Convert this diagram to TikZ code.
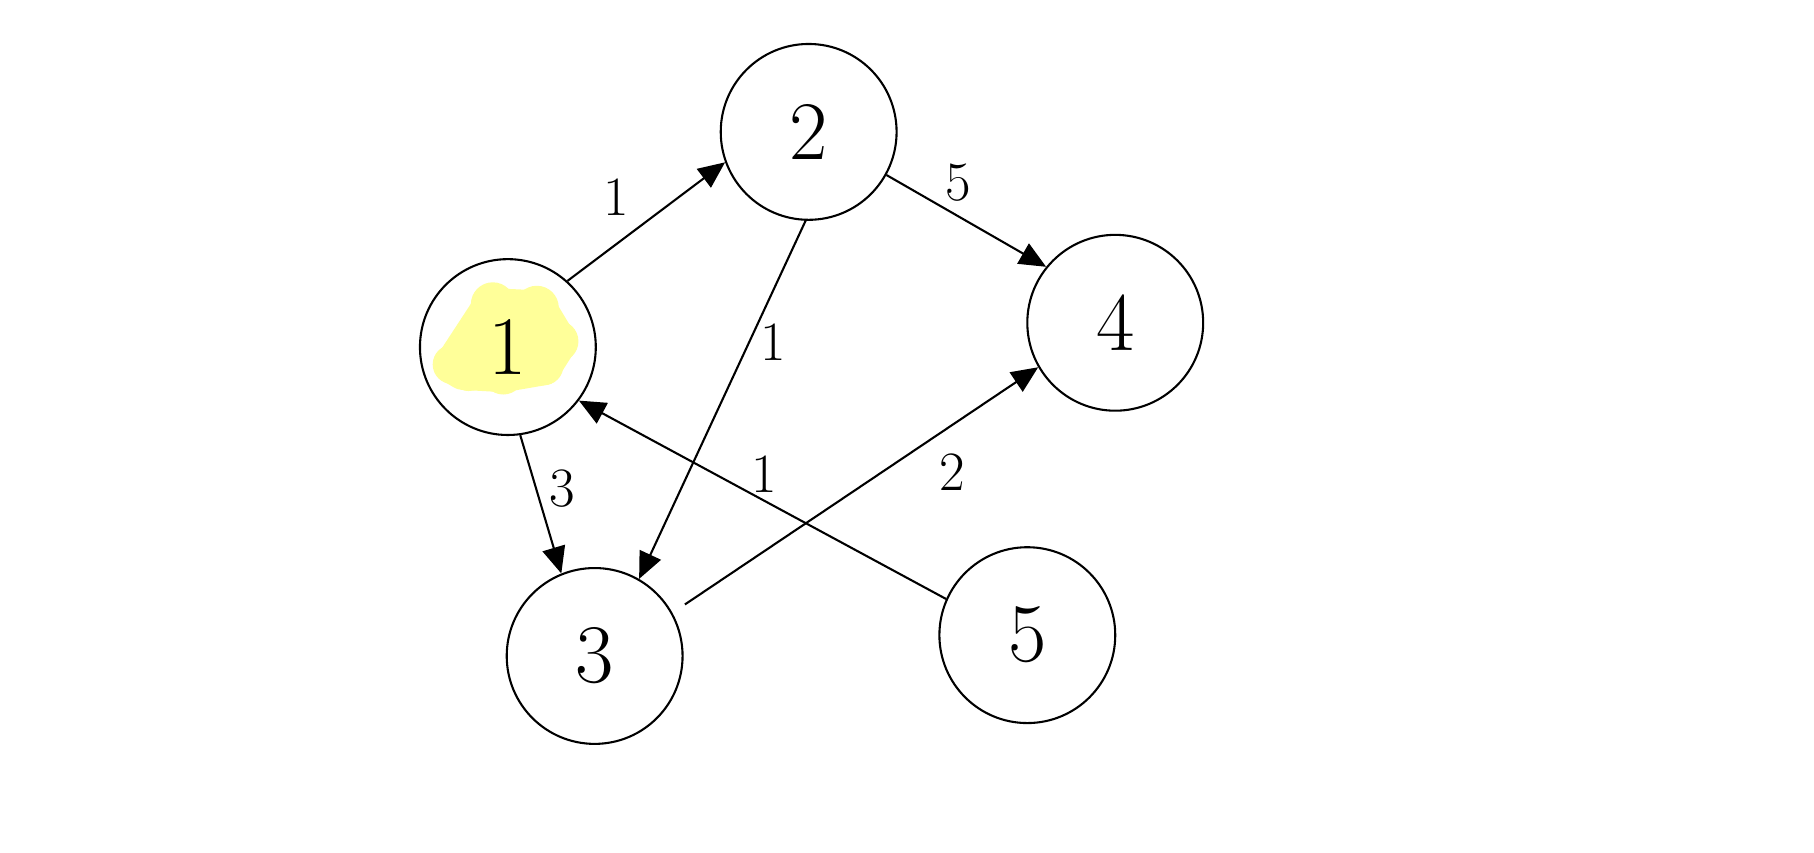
\documentclass[tikz,border=0pt]{standalone}
\usepackage{fontspec}
\usetikzlibrary{arrows.meta}
\definecolor{hilite}{HTML}{FFFF99}
\begin{document}
\begin{tikzpicture}[x=1pt,y=-1pt,
  vertex/.style={circle,draw=black,line width=1.8pt,minimum size=152pt,inner sep=0pt,font=\fontsize{72}{72}\selectfont},
  edge/.style={draw=black,line width=1.8pt,-{Triangle[length=23pt,width=20pt]}},
  wlabel/.style={font=\fontsize{48}{48}\selectfont,inner sep=0pt}]
\useasboundingbox (0,0) rectangle (1568,736.5);
% highlight
\fill[hilite,line width=30pt,draw=hilite,line join=round,line cap=round]
  (390,316) -- (424,264) -- (466,266) -- (484,296) -- (470,318) -- (435,324) -- (400,322) -- cycle;
\foreach \p/\r in {(391,315)/17,(426,263)/19,(464,266)/19,(482,295)/18,(470,316)/17,(435,323)/18,(405,321)/17}
  \fill[hilite] \p circle[radius=\r];
\node[vertex] (n1) at (439,300) {1};
\node[vertex] (n2) at (699,114) {2};
\node[vertex] (n3) at (514,567) {3};
\node[vertex] (n4) at (964,279) {4};
\node[vertex] (n5) at (888,549) {5};
\draw[edge] (n1.48) -- (n2.200);
\draw[edge] (n2.331) -- (n4.141);
\draw[edge] (n2.268) -- (n3.60);
\draw[edge] (n1.278) -- (n3.112);
\draw[edge,shorten <=13pt] (n3.29) -- (n4.210);
\draw[edge] (n5.156) -- (n1.323);
\node[wlabel] (w12) at (533,170) {1};
\node[wlabel] (w24) at (828,158) {5};
\node[wlabel] (w23) at (668,296) {1};
\node[wlabel] (w13) at (486,422) {3};
\node[wlabel] (w34) at (823,408) {2};
\node[wlabel] (w51) at (661,410) {1};
\end{tikzpicture}
\end{document}
